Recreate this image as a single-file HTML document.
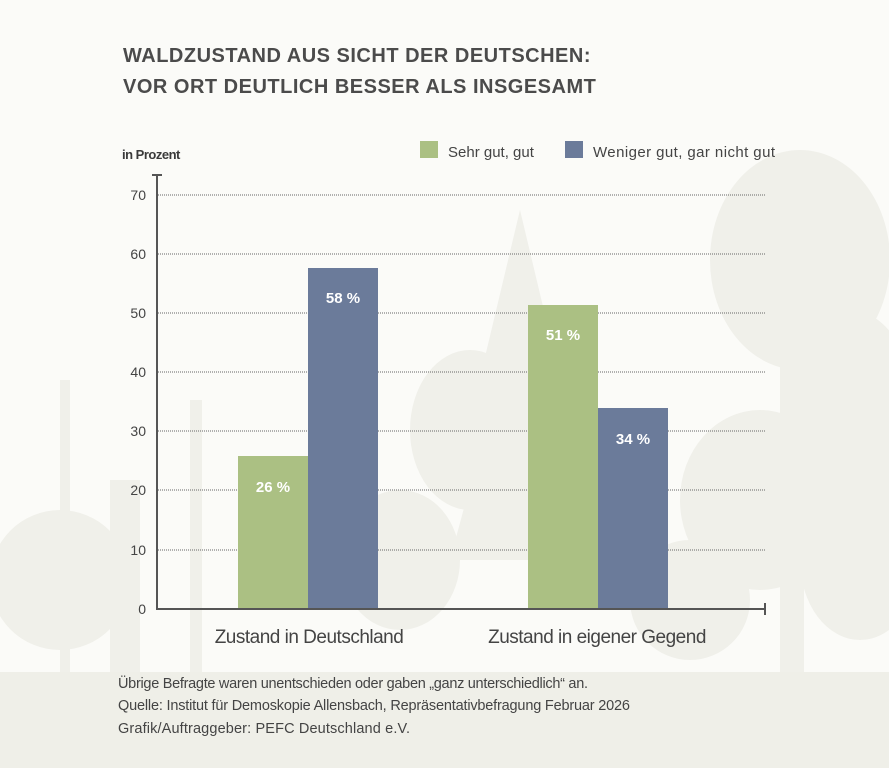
<!DOCTYPE html>
<html><head><meta charset="utf-8"><style>
body{margin:0;width:889px;height:768px;overflow:hidden;background:#fbfbf8;font-family:"Liberation Sans",sans-serif;}
svg{display:block}
</style></head><body>
<svg width="889" height="768" viewBox="0 0 889 768" xmlns="http://www.w3.org/2000/svg">
<rect width="889" height="768" fill="#fbfbf8"/>
<g fill="#f0f0ea">
<ellipse cx="800" cy="260" rx="90" ry="110"/>
<ellipse cx="850" cy="430" rx="70" ry="120"/>
<ellipse cx="760" cy="500" rx="80" ry="90"/>
<rect x="780" y="300" width="24" height="380"/>
<polygon points="520,210 470,420 570,420"/>
<polygon points="520,300 450,560 590,560"/>
<ellipse cx="470" cy="430" rx="60" ry="80"/>
<rect x="60" y="380" width="10" height="300"/>
<rect x="190" y="400" width="12" height="280"/>
<rect x="110" y="480" width="30" height="200"/>
<ellipse cx="60" cy="580" rx="70" ry="70"/>
<ellipse cx="400" cy="560" rx="60" ry="70"/>
<ellipse cx="690" cy="600" rx="60" ry="60"/>
<ellipse cx="860" cy="560" rx="60" ry="80"/>
</g>
<rect x="0" y="672" width="889" height="96" fill="#efefe8"/>
<text x="123" y="62" font-size="20" font-weight="bold" fill="#4b4b4b" letter-spacing="0.5">WALDZUSTAND AUS SICHT DER DEUTSCHEN:</text>
<text x="123" y="93" font-size="20" font-weight="bold" fill="#4b4b4b" letter-spacing="0.5">VOR ORT DEUTLICH BESSER ALS INSGESAMT</text>
<text x="122" y="159" font-size="13" font-weight="bold" fill="#3a3a3a" letter-spacing="-0.5">in Prozent</text>
<rect x="420" y="141" width="18" height="17" fill="#abc083"/>
<text x="448" y="157" font-size="15" fill="#444">Sehr gut, gut</text>
<rect x="565" y="141" width="18" height="17" fill="#6b7b9a"/>
<text x="593" y="157" font-size="15" fill="#444" textLength="182">Weniger gut, gar nicht gut</text>
<g stroke="#666" stroke-width="1" stroke-dasharray="1,1">
<line x1="158" y1="195" x2="765" y2="195"/>
<line x1="158" y1="254" x2="765" y2="254"/>
<line x1="158" y1="313" x2="765" y2="313"/>
<line x1="158" y1="372" x2="765" y2="372"/>
<line x1="158" y1="431" x2="765" y2="431"/>
<line x1="158" y1="490" x2="765" y2="490"/>
<line x1="158" y1="550" x2="765" y2="550"/>
</g>
<g font-size="14" fill="#444" text-anchor="end">
<text x="146" y="200">70</text><text x="146" y="259">60</text><text x="146" y="318">50</text>
<text x="146" y="377">40</text><text x="146" y="436">30</text><text x="146" y="495">20</text>
<text x="146" y="555">10</text><text x="146" y="614">0</text>
</g>
<rect x="238" y="456" width="70" height="153" fill="#abc083"/>
<rect x="308" y="268" width="70" height="341" fill="#6b7b9a"/>
<rect x="528" y="305" width="70" height="304" fill="#abc083"/>
<rect x="598" y="408" width="70" height="201" fill="#6b7b9a"/>
<g font-size="15" font-weight="bold" fill="#fff" text-anchor="middle">
<text x="273" y="492">26 %</text><text x="343" y="303">58 %</text>
<text x="563" y="340">51 %</text><text x="633" y="444">34 %</text>
</g>
<g stroke="#555" stroke-width="2" fill="none">
<line x1="157" y1="175" x2="157" y2="610"/>
<line x1="152" y1="175" x2="162" y2="175"/>
<line x1="156" y1="609" x2="765" y2="609"/>
<line x1="765" y1="603" x2="765" y2="615"/>
</g>
<g font-size="19" fill="#444" text-anchor="middle" letter-spacing="-0.5">
<text x="309" y="643">Zustand in Deutschland</text>
<text x="597" y="643">Zustand in eigener Gegend</text>
</g>
<g font-size="14.5" fill="#444">
<text x="118" y="688" textLength="470">Übrige Befragte waren unentschieden oder gaben „ganz unterschiedlich“ an.</text>
<text x="118" y="710" textLength="512">Quelle: Institut für Demoskopie Allensbach, Repräsentativbefragung Februar 2026</text>
<text x="118" y="733" textLength="292">Grafik/Auftraggeber: PEFC Deutschland e.V.</text>
</g>
</svg>
</body></html>
